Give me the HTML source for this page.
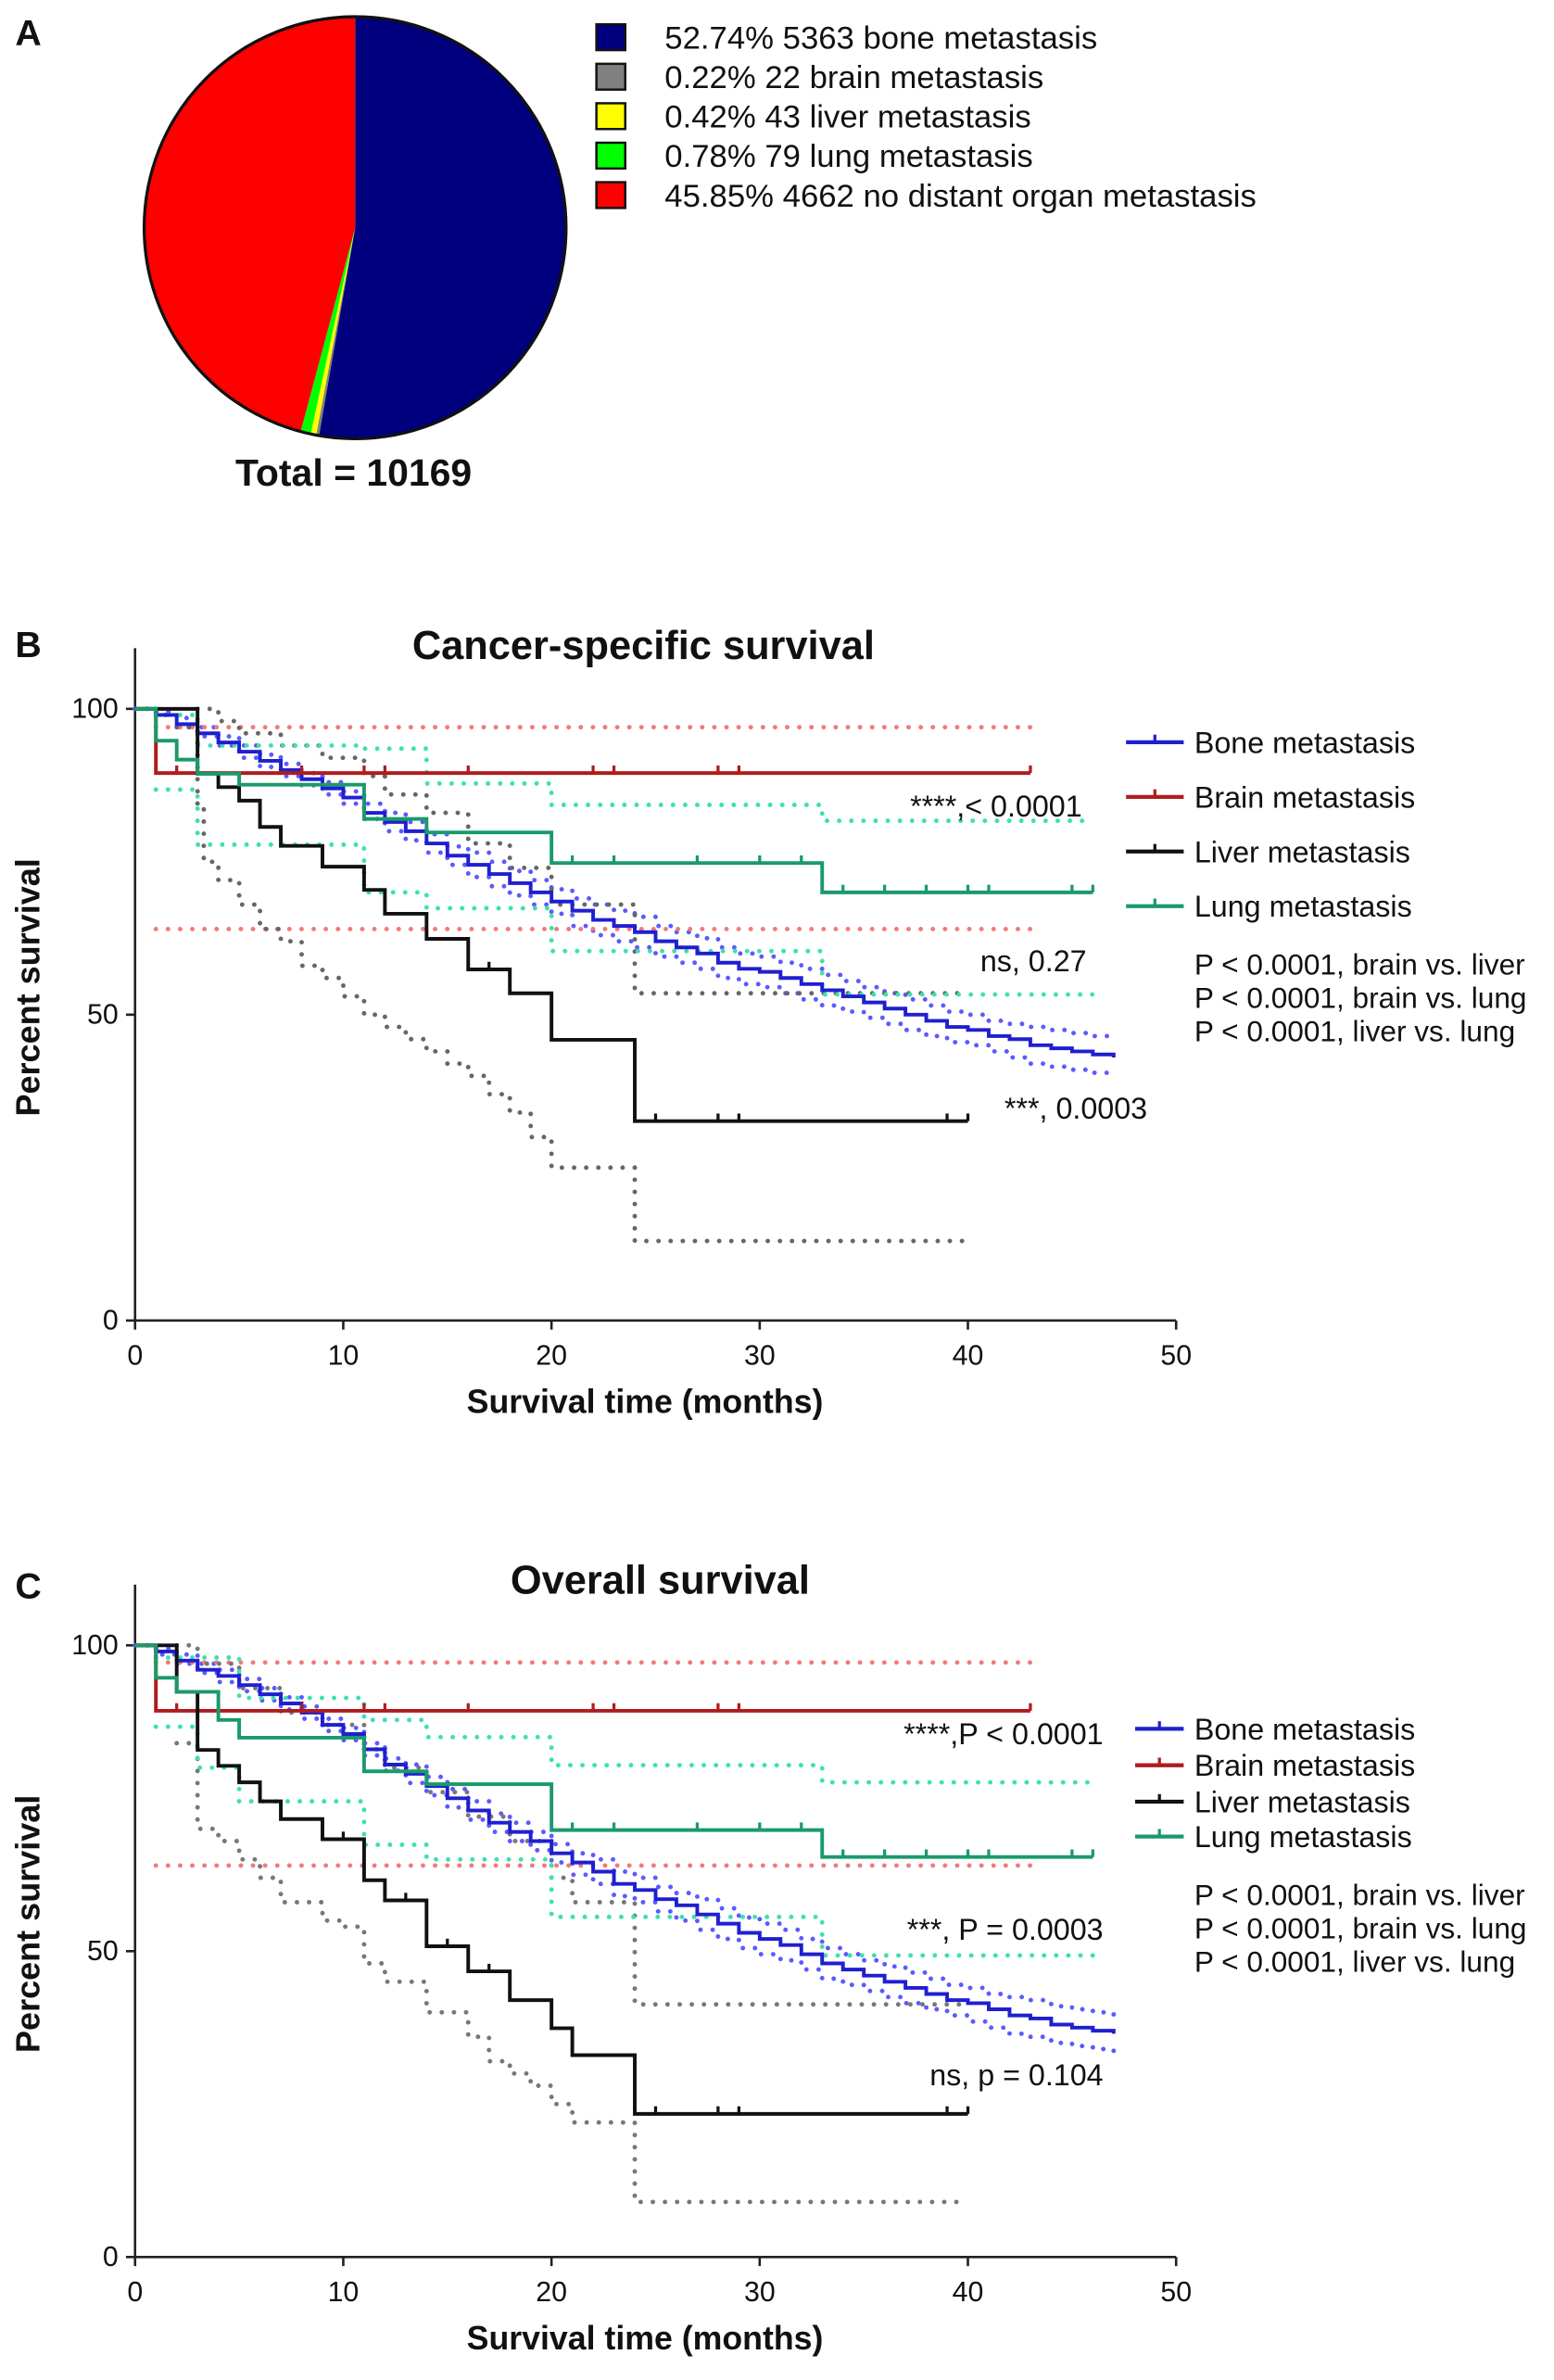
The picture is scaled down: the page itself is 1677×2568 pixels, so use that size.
<!DOCTYPE html>
<html><head><meta charset="utf-8"><style>
html,body{margin:0;padding:0;background:#fff}
svg{display:block}
text{font-family:"Liberation Sans",Arial,sans-serif;fill:#111}
</style></head><body>
<svg id="fig" width="1677" height="2568" viewBox="0 0 1024 1568" xmlns="http://www.w3.org/2000/svg">
<text x="10" y="30" font-size="24" font-weight="bold">A</text>
<g id="pie"></g>
<g id="pieLegend"></g>
<text x="233" y="320" font-size="25" font-weight="bold" text-anchor="middle">Total = 10169</text>
<text x="10" y="433" font-size="24" font-weight="bold">B</text>
<text x="424" y="434" font-size="26.5" font-weight="bold" text-anchor="middle">Cancer-specific survival</text>
<g id="chartB"></g>
<text x="10" y="1053" font-size="24" font-weight="bold">C</text>
<text x="435" y="1050" font-size="26.5" font-weight="bold" text-anchor="middle">Overall survival</text>
<g id="chartC"></g>
</svg>
<script>
const NS="http://www.w3.org/2000/svg";
// ---- Pie data ----
const pieLabels=["52.74% 5363 bone metastasis","0.22% 22 brain metastasis","0.42% 43 liver metastasis","0.78% 79 lung metastasis","45.85% 4662 no distant organ metastasis"];
const pieValues=[5363,22,43,79,4662];
const pieColors=["#00007f","#808080","#ffff00","#00ff00","#ff0000"];

// ---- Chart B data (time months, survival %) ----
const bBoneT=[0,1,2,3,4,5,6,7,8,9,10,11,12,13,14,15,16,17,18,19,20,21,22,23,24,25,26,27,28,29,30,31,32,33,34,35,36,37,38,39,40,41,42,43,44,45,46,47];
const bBoneS=[100,99,97.5,96,94.5,93,91.5,90,88.5,87,85.5,83,81.5,80,78,76,74.5,73,71.5,70,68.5,67,65.5,64.5,63.5,62,61,60,58.5,57.5,57,56,55,54,53,52,51,50,49,48,47.5,46.5,46,45,44.5,44,43.5,43];
const bBoneLo=[100,99,97,95.5,94,92,90.5,89,87.5,86,84.5,82,80,78.5,76.5,74.5,72.5,71,69.5,68,66.5,64.5,63,62,61,59.5,58.5,57.5,56,55,54.5,53.5,52.5,51.5,50.5,49.5,48.5,47.5,46.5,45.5,45,44,43,42,41.5,41,40.5,40];
const bBoneHi=[100,99.5,98.5,97,95.5,94,92.5,91,89.5,88,86.5,84.5,83,81.5,79.5,77.5,76.5,75,73.5,72,70.5,69,68,67,66,64.5,63.5,62.5,61,60,59.5,58.5,57.5,56.5,55.5,54.5,53.5,52.5,51.5,50.5,50,49,48.5,48,47.5,47,46.5,46];
const bBrainT=[0,1,43]; const bBrainS=[100,89.5,89.5];
const bBrainLoT=[1,43]; const bBrainLo=[64,64];
const bBrainHiT=[1,43]; const bBrainHi=[97,97];
const bBrainTicks=[2,8,11,12,16,22,23,28,29,43];
const bLiverT=[0,3,4,5,6,7,9,11,12,14,16,18,20,24,40];
const bLiverS=[100,89.4,87.2,85,80.7,77.6,74.2,70.4,66.5,62.4,57.4,53.5,45.9,32.6,32.6];
const bLiverTicks=[17,25,28,29,39,40];
const bLiverLoT=[2,3,3.3,4,5,6,7,8,9,10,11,12,13,14,15,16,17,18,19,20,24,40];
const bLiverLo=[97,84,75,72,68,64,62,58,56,53,50,48,46,44,42,40,37,34,30,25,13,13];
const bLiverHiT=[3,4,5,7,9,11,12,14,16,18,20,24,40];
const bLiverHi=[100,98,96,94,92,89,86,83,78,74,68,53.5,53.5];
const bLungT=[0,1,2,3,5,11,14,20,33,46];
const bLungS=[100,94.8,91.7,89.4,87.6,82,79.8,74.8,70,70];
const bLungTicks=[21,23,27,30,32,34,36,38,40,41,45,46];
const bLungHiT=[1,3,11,14,20,33,46]; const bLungHi=[99,94,93.5,87.8,84.3,81.7,81.7];
const bLungLoT=[1,3,11,14,20,24,33,46]; const bLungLo=[86.8,77.8,70,67.4,60.4,60.4,53.3,53.3];

// ---- Chart C data ----
const cBoneT=bBoneT;
const cBoneS=[100,99,97.5,96,95,93.5,92,90.5,89,87,85.5,83,80.5,79,77,75,73,71,69.5,68,66,64.5,63,61,60,58.5,57.5,56,54.5,53,52,51,49.5,48,47,46,45,44,43,42,41.5,40.5,39.5,39,38,37.5,37,36.5];
const cBoneLo=[100,98.5,97,95.5,94,92.5,91,89.5,88,86,84.5,82,79.5,77.5,75.5,73.5,71.5,69.5,68,66.5,64.5,62.5,61,59,58,56.5,55,53.5,52,50.5,49.5,48.5,47,45.5,44.5,43.5,42.5,41.5,40.5,39.5,38.5,37.5,36.5,36,35,34.5,34,33.5];
const cBoneHi=[100,99.5,98.5,97,96,94.5,93,91.5,90,88,86.5,84,81.5,80.5,78.5,76.5,74.5,72.5,71,69.5,67.5,66,65,63,62,60.5,59.5,58.5,57,55.5,54.5,53.5,52,50.5,49.5,48.5,47.5,46.5,45.5,44.5,44,43,42.5,42,41,40.5,40,39.5];
const cBrainT=[0,1,43]; const cBrainS=[100,89.3,89.3];
const cBrainLoT=[1,43]; const cBrainLo=[64,64];
const cBrainHiT=[1,43]; const cBrainHi=[97.2,97.2];
const cBrainTicks=[2,8,11,12,16,22,23,28,29,43];
const cLiverT=[0,2,3,4,5,6,7,9,11,12,14,16,18,20,21,24,40];
const cLiverS=[100,92.4,82.9,80.3,77.6,74.5,71.6,68.3,61.6,58.3,50.8,46.7,42,37.4,33,23.4,23.4];
const cLiverTicks=[10,13,15,17,25,28,29,39,40];
const cLiverLoT=[2,3,4,5,6,7,9,10,11,12,14,16,17,18,19,20,21,24,40];
const cLiverLo=[84,70,68,65,62,58,55,54,48,45,40,36,32,30,28,25,22,9,9];
const cLiverHiT=[2,3,5,7,9,11,12,14,16,18,20,21,24,40];
const cLiverHi=[100,97,93,89,87,83,80,76,72,68,62,58,41.3,41.3];
const cLungT=[0,1,2,4,5,11,14,20,33,46];
const cLungS=[100,94.7,92.4,87.8,84.9,79.4,77.3,69.8,65.4,65.4];
const cLungTicks=[21,23,27,30,32,34,36,38,40,41,45,46];
const cLungHiT=[1,5,11,14,20,33,46]; const cLungHi=[98,91.4,87.8,85,80.4,77.6,77.6];
const cLungLoT=[1,3,5,11,14,20,33,46]; const cLungLo=[86.7,80,74.5,67.4,65,55.6,49.3,49.3];

const xTicks=[0,10,20,30,40,50];
const yTicks=[0,50,100];

function el(tag,attrs,parent){const e=document.createElementNS(NS,tag);for(const k in attrs)e.setAttribute(k,attrs[k]);parent.appendChild(e);return e;}

// ---- Pie ----
(function(){
  const g=document.getElementById('pie');
  const cx=234,cy=150,r=139;
  const total=pieValues.reduce((a,b)=>a+b,0);
  let a0=-Math.PI/2;
  pieValues.forEach((v,i)=>{
    const a1=a0+v/total*2*Math.PI;
    const large=(a1-a0)>Math.PI?1:0;
    const d=`M${cx},${cy} L${cx+r*Math.cos(a0)},${cy+r*Math.sin(a0)} A${r},${r} 0 ${large} 1 ${cx+r*Math.cos(a1)},${cy+r*Math.sin(a1)} Z`;
    const p=el('path',{d:d,fill:pieColors[i],stroke:'none'},g);
    
    
    a0=a1;
  });
  el('circle',{cx:cx,cy:cy,r:r,fill:'none',stroke:'#111','stroke-width':2},g);
  const lg=document.getElementById('pieLegend');
  pieLabels.forEach((t,i)=>{
    const y=24+i*26;
    const rc=el('rect',{x:393,y:y-8,width:19,height:17,fill:pieColors[i],stroke:'#111','stroke-width':1.5},lg);
    
    
    const tx=el('text',{x:438,y:y+8,'font-size':21.2},lg);
    tx.textContent=t;
    
    
  });
})();

function drawChart(gid,y100,y0,series,legendRows,legendX,notes,pLines){
  const g=document.getElementById(gid);
  const X=t=>89+t*(775-89)/50;
  const Y=s=>y0-(s/100)*(y0-y100);
  el('line',{x1:89,y1:y100-40,x2:89,y2:y0,stroke:'#222','stroke-width':1.6},g);
  el('line',{x1:89,y1:y0,x2:775,y2:y0,stroke:'#222','stroke-width':1.6},g);
  yTicks.forEach(v=>{
    el('line',{x1:83,y1:Y(v),x2:89,y2:Y(v),stroke:'#222','stroke-width':1.6},g);
    const t=el('text',{x:78,y:Y(v)+6,'font-size':18.5,'text-anchor':'end'},g);t.textContent=v;
    
    
  });
  xTicks.forEach(v=>{
    el('line',{x1:X(v),y1:y0,x2:X(v),y2:y0+6,stroke:'#222','stroke-width':1.6},g);
    const t=el('text',{x:X(v),y:y0+29,'font-size':18.5,'text-anchor':'middle'},g);t.textContent=v;
    
    
  });
  const xt=el('text',{x:425,y:y0+61,'font-size':21.8,'font-weight':'bold','text-anchor':'middle'},g);
  xt.textContent='Survival time (months)';
  
  
  const yc=(y0+y100)/2-18;
  const yt=el('text',{x:0,y:0,'font-size':22,'font-weight':'bold','text-anchor':'middle',transform:`translate(26,${yc}) rotate(-90)`},g);
  yt.textContent='Percent survival';
  
  
  function stepPath(T,S){let d=`M${X(T[0])},${Y(S[0])}`;for(let i=1;i<T.length;i++){d+=` H${X(T[i])} V${Y(S[i])}`;}return d;}
  series.forEach(s=>{
    s.ci.forEach(c=>{
      const p=el('path',{d:stepPath(c[0],c[1]),fill:'none',stroke:s.ciColor,'stroke-width':3,'stroke-linecap':'round','stroke-dasharray':'0 8'},g);
      
      
    });
  });
  series.forEach(s=>{
    const p=el('path',{d:stepPath(s.T,s.S),fill:'none',stroke:s.color,'stroke-width':2.4},g);
    
    
    (s.ticks||[]).forEach(t=>{
      let v=s.S[0];for(let i=0;i<s.T.length;i++){if(s.T[i]<=t)v=s.S[i];}
      const tk=el('line',{x1:X(t),y1:Y(v),x2:X(t),y2:Y(v)-5,stroke:s.color,'stroke-width':2},g);
      
      
    });
  });
  legendRows.forEach((r,i)=>{
    el('line',{x1:legendX,y1:r.y,x2:780,y2:r.y,stroke:r.color,'stroke-width':2.6},g);
    el('line',{x1:(legendX+780)/2,y1:r.y,x2:(legendX+780)/2,y2:r.y-5,stroke:r.color,'stroke-width':2},g);
    const t=el('text',{x:787,y:r.y+7,'font-size':19.7},g);t.textContent=r.label;
    
    
  });
  notes.forEach(n=>{
    const t=el('text',{x:n.x,y:n.y,'font-size':19.7,'text-anchor':n.anchor||'start'},g);t.textContent=n.t;
    
    
  });
  pLines.forEach(n=>{
    const t=el('text',{x:787,y:n.y,'font-size':19.3},g);t.textContent=n.t;
    
    
  });
}

drawChart('chartB',467,870,[
  {name:'bone',T:bBoneT,S:bBoneS,color:'#1f1fd0',ciColor:'#5a5aff',ci:[[bBoneT,bBoneLo],[bBoneT,bBoneHi]]},
  {name:'brain',T:bBrainT,S:bBrainS,color:'#b01c1c',ciColor:'#f07a7a',ticks:bBrainTicks,ci:[[bBrainLoT,bBrainLo],[bBrainHiT,bBrainHi]]},
  {name:'liver',T:bLiverT,S:bLiverS,color:'#111',ciColor:'#666',ticks:bLiverTicks,ci:[[bLiverLoT,bLiverLo],[bLiverHiT,bLiverHi]]},
  {name:'lung',T:bLungT,S:bLungS,color:'#1a9a6a',ciColor:'#3ee0b0',ticks:bLungTicks,ci:[[bLungLoT,bLungLo],[bLungHiT,bLungHi]]}
],[
  {y:489,color:'#1f1fd0',label:'Bone metastasis'},
  {y:525,color:'#b01c1c',label:'Brain metastasis'},
  {y:561,color:'#111',label:'Liver metastasis'},
  {y:597,color:'#1a9a6a',label:'Lung metastasis'}
],742,[
  {x:713,y:538,t:'****,< 0.0001',anchor:'end'},
  {x:716,y:640,t:'ns, 0.27',anchor:'end'},
  {x:756,y:737,t:'***, 0.0003',anchor:'end'}
],[{y:642,t:'P < 0.0001, brain vs. liver'},{y:664,t:'P < 0.0001, brain vs. lung'},{y:686,t:'P < 0.0001, liver vs. lung'}]);

drawChart('chartC',1084,1487,[
  {name:'bone',T:cBoneT,S:cBoneS,color:'#1f1fd0',ciColor:'#5a5aff',ci:[[cBoneT,cBoneLo],[cBoneT,cBoneHi]]},
  {name:'brain',T:cBrainT,S:cBrainS,color:'#b01c1c',ciColor:'#f07a7a',ticks:cBrainTicks,ci:[[cBrainLoT,cBrainLo],[cBrainHiT,cBrainHi]]},
  {name:'liver',T:cLiverT,S:cLiverS,color:'#111',ciColor:'#777',ticks:cLiverTicks,ci:[[cLiverLoT,cLiverLo],[cLiverHiT,cLiverHi]]},
  {name:'lung',T:cLungT,S:cLungS,color:'#1a9a6a',ciColor:'#3ee0b0',ticks:cLungTicks,ci:[[cLungLoT,cLungLo],[cLungHiT,cLungHi]]}
],[
  {y:1139,color:'#1f1fd0',label:'Bone metastasis'},
  {y:1163,color:'#b01c1c',label:'Brain metastasis'},
  {y:1187,color:'#111',label:'Liver metastasis'},
  {y:1210,color:'#1a9a6a',label:'Lung metastasis'}
],748,[
  {x:727,y:1149,t:'****,P < 0.0001',anchor:'end'},
  {x:727,y:1278,t:'***, P = 0.0003',anchor:'end'},
  {x:727,y:1374,t:'ns, p = 0.104',anchor:'end'}
],[{y:1255,t:'P < 0.0001, brain vs. liver'},{y:1277,t:'P < 0.0001, brain vs. lung'},{y:1299,t:'P < 0.0001, liver vs. lung'}]);
</script>
</body></html>
